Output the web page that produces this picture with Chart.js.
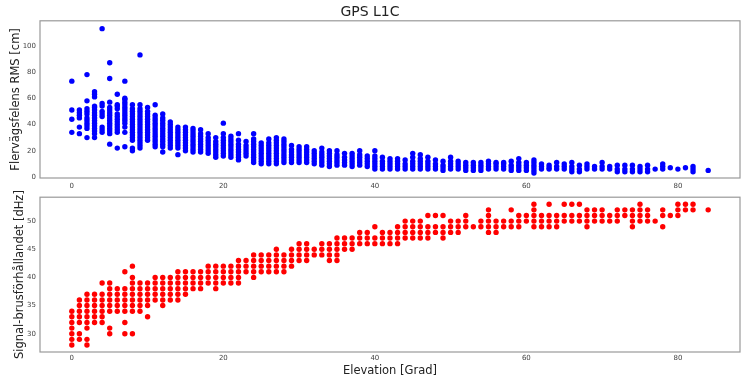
<!DOCTYPE html>
<html>
<head>
<meta charset="utf-8">
<script src="https://cdn.jsdelivr.net/npm/chart.js@4.4.1/dist/chart.umd.min.js"></script>
<style>
  body { margin: 0; background: #fff; }
  .panel { position: absolute; left: 0; width: 745px; }
</style>
</head>
<body>
<div class="panel" style="top:189px;height:189px"><canvas id="snr" width="745" height="189"></canvas></div>
<div class="panel" style="top:0;height:194px"><canvas id="rms" width="745" height="194"></canvas></div>
<script>
// multipath RMS [cm] per elevation column
var rmsColumns = [
  [0, [34, 44, 51, 73]],
  [1, [33, 38, 45, 47, 49, 51]],
  [2, [30, 37, 39, 41, 43, 45, 48, 50, 52, 58, 78]],
  [3, [30, 33, 35, 37, 39, 41, 43, 45, 47, 49, 51, 53, 54, 61, 63, 65]],
  [4, [34, 36, 38, 46, 48, 50, 54, 56, 113]],
  [5, [25, 33, 35, 37, 39, 41, 43, 45, 47, 49, 51, 53, 57, 75, 87]],
  [6, [22, 34, 36, 38, 40, 42, 44, 46, 48, 52, 54, 55, 63]],
  [7, [23, 34, 38, 41, 43, 45, 47, 49, 51, 53, 55, 57, 59, 60, 73]],
  [8, [20, 22, 28, 30, 32, 34, 36, 38, 40, 42, 44, 46, 48, 50, 52, 55]],
  [9, [22, 24, 26, 28, 30, 32, 34, 36, 38, 40, 42, 44, 46, 48, 50, 52, 55, 93]],
  [10, [28, 30, 32, 34, 36, 38, 40, 42, 44, 46, 48, 50, 53]],
  [11, [23, 25, 27, 29, 31, 33, 35, 37, 39, 41, 43, 45, 47, 55]],
  [12, [19, 23, 25, 27, 29, 31, 33, 35, 37, 39, 41, 43, 45, 48]],
  [13, [22, 24, 26, 28, 30, 32, 34, 36, 38, 40, 42]],
  [14, [17, 22, 24, 26, 28, 30, 32, 34, 36, 38]],
  [15, [20, 22, 24, 26, 28, 30, 32, 34, 36, 38]],
  [16, [19, 21, 23, 25, 27, 29, 31, 33, 35, 37]],
  [17, [19, 21, 23, 25, 27, 29, 31, 33, 36]],
  [18, [18, 20, 22, 24, 26, 28, 30, 33]],
  [19, [15, 17, 19, 21, 23, 25, 27, 30]],
  [20, [16, 18, 20, 22, 24, 26, 28, 30, 33, 41]],
  [21, [15, 17, 19, 21, 23, 25, 27, 29, 31]],
  [22, [13, 15, 17, 19, 21, 23, 25, 28, 33]],
  [23, [16, 18, 20, 22, 24, 27]],
  [24, [11, 13, 15, 17, 19, 21, 23, 25, 27, 29, 33]],
  [25, [10, 12, 14, 16, 18, 20, 22, 24, 26]],
  [26, [10, 12, 14, 16, 18, 20, 22, 24, 26, 29]],
  [27, [10, 12, 14, 16, 18, 20, 22, 24, 26, 28, 30]],
  [28, [11, 13, 15, 17, 19, 21, 23, 25, 27, 29]],
  [29, [11, 13, 15, 17, 19, 21, 24]],
  [30, [11, 13, 15, 17, 19, 21, 23]],
  [31, [11, 13, 15, 17, 19, 21, 23]],
  [32, [10, 12, 14, 16, 18, 20]],
  [33, [9, 11, 13, 15, 17, 19, 22]],
  [34, [8, 10, 12, 14, 16, 18, 20]],
  [35, [9, 11, 13, 15, 17, 20]],
  [36, [9, 11, 13, 15, 18]],
  [37, [8, 10, 12, 14, 16, 18]],
  [38, [9, 11, 13, 15, 17, 20]],
  [39, [8, 10, 12, 14, 16]],
  [40, [6, 8, 10, 12, 14, 16, 20]],
  [41, [6, 8, 10, 12, 15]],
  [42, [6, 8, 10, 12, 14]],
  [43, [6, 8, 10, 12, 14]],
  [44, [6, 8, 10, 13]],
  [45, [6, 8, 10, 12, 15, 18]],
  [46, [6, 8, 10, 12, 14, 17]],
  [47, [6, 8, 10, 12, 15]],
  [48, [6, 8, 10, 13]],
  [49, [5, 7, 9, 12]],
  [50, [6, 8, 10, 12, 15]],
  [51, [6, 8, 10, 12]],
  [52, [5, 7, 9, 11]],
  [53, [5, 7, 9, 11]],
  [54, [5, 7, 9, 11]],
  [55, [6, 8, 10, 12]],
  [56, [6, 8, 10, 11]],
  [57, [6, 8, 10, 11]],
  [58, [5, 7, 9, 12]],
  [59, [5, 7, 9, 11, 14]],
  [60, [5, 7, 9, 11]],
  [61, [3, 5, 7, 9, 11, 13]],
  [62, [6, 8, 10]],
  [63, [6, 7, 9]],
  [64, [6, 8, 11]],
  [65, [6, 8, 10]],
  [66, [4, 6, 8, 11]],
  [67, [4, 6, 9]],
  [68, [6, 8, 10]],
  [69, [6, 8]],
  [70, [6, 8, 11]],
  [71, [6, 8]],
  [72, [4, 6, 9]],
  [73, [4, 6, 9]],
  [74, [4, 6, 9]],
  [75, [4, 6, 8]],
  [76, [4, 6, 9]],
  [77, [6]],
  [78, [6, 8, 10]],
  [79, [7]],
  [80, [6]],
  [81, [7]],
  [82, [4, 6, 8]],
  [84, [5]]
];

// signal-to-noise ratio [dHz] per elevation column
var snrColumns = [
  [0, [28, 29, 30, 31, 32, 33, 34]],
  [1, [29, 30, 32, 33, 34, 35, 36]],
  [2, [28, 29, 31, 32, 33, 34, 35, 36, 37]],
  [3, [32, 33, 34, 35, 36, 37]],
  [4, [32, 33, 34, 35, 36, 37, 39]],
  [5, [30, 31, 34, 35, 36, 37, 38, 39]],
  [6, [34, 35, 36, 37, 38]],
  [7, [30, 32, 34, 35, 36, 37, 38, 41]],
  [8, [30, 34, 35, 36, 37, 38, 39, 40, 42]],
  [9, [34, 35, 36, 37, 38, 39]],
  [10, [33, 35, 36, 37, 38, 39]],
  [11, [36, 37, 38, 39, 40]],
  [12, [35, 36, 37, 38, 39, 40]],
  [13, [36, 37, 38, 39, 40]],
  [14, [36, 37, 38, 39, 40, 41]],
  [15, [37, 38, 39, 40, 41]],
  [16, [38, 39, 40, 41]],
  [17, [38, 39, 40, 41]],
  [18, [39, 40, 41, 42]],
  [19, [38, 39, 40, 41, 42]],
  [20, [39, 40, 41, 42]],
  [21, [39, 40, 41, 42]],
  [22, [39, 40, 41, 42, 43]],
  [23, [41, 42, 43]],
  [24, [40, 41, 42, 43, 44]],
  [25, [41, 42, 43, 44]],
  [26, [41, 42, 43, 44]],
  [27, [41, 42, 43, 44, 45]],
  [28, [41, 42, 43, 44]],
  [29, [42, 43, 44, 45]],
  [30, [43, 44, 45, 46]],
  [31, [43, 44, 45, 46]],
  [32, [44, 45]],
  [33, [44, 45, 46]],
  [34, [43, 44, 45, 46]],
  [35, [43, 44, 45, 46, 47]],
  [36, [45, 46, 47]],
  [37, [45, 46, 47]],
  [38, [46, 47, 48]],
  [39, [46, 47, 48]],
  [40, [46, 47, 49]],
  [41, [46, 47, 48]],
  [42, [46, 47, 48]],
  [43, [46, 47, 48, 49]],
  [44, [47, 48, 49, 50]],
  [45, [47, 48, 49, 50]],
  [46, [47, 48, 49, 50]],
  [47, [47, 48, 49, 51]],
  [48, [48, 49, 51]],
  [49, [47, 48, 49, 51]],
  [50, [48, 49, 50]],
  [51, [48, 49, 50]],
  [52, [49, 50, 51]],
  [53, [49]],
  [54, [49, 50]],
  [55, [48, 49, 50, 51, 52]],
  [56, [48, 49, 50]],
  [57, [49, 50]],
  [58, [49, 50, 52]],
  [59, [49, 50, 51]],
  [60, [50, 51]],
  [61, [49, 50, 51, 52, 53]],
  [62, [49, 50, 51]],
  [63, [49, 50, 51, 53]],
  [64, [49, 50, 51]],
  [65, [50, 51, 53]],
  [66, [50, 51, 53]],
  [67, [50, 51, 53]],
  [68, [49, 50, 51, 52]],
  [69, [50, 51, 52]],
  [70, [50, 51, 52]],
  [71, [50, 51]],
  [72, [50, 51, 52]],
  [73, [51, 52]],
  [74, [49, 50, 51, 52]],
  [75, [50, 51, 52, 53]],
  [76, [50, 51, 52]],
  [77, [50]],
  [78, [49, 51, 52]],
  [79, [51]],
  [80, [51, 52, 53]],
  [81, [52, 53]],
  [82, [52, 53]],
  [84, [52]]
];

var elevationTicks = [0, 20, 40, 60, 80];
var rmsTicks = [0, 20, 40, 60, 80, 100];
var snrTicks = [30, 35, 40, 45, 50];

function toPoints(columns) {
  var pts = [];
  columns.forEach(function(col) {
    col[1].forEach(function(v) { pts.push({x: col[0], y: v}); });
  });
  return pts;
}

var font = "'DejaVu Sans', sans-serif";

// matplotlib-style frame around the plot area
var frame = {
  id: 'frame',
  afterDraw: function(chart) {
    var a = chart.chartArea, ctx = chart.ctx;
    ctx.save();
    ctx.strokeStyle = '#999';
    ctx.lineWidth = 1.2;
    ctx.strokeRect(a.left, a.top, a.right - a.left, a.bottom - a.top);
    ctx.restore();
  }
};

function fixedTicks(list) {
  return function(scale) {
    scale.ticks = list.map(function(v) { return {value: v}; });
  };
}

function makeChart(id, points, color, yMin, yMax, yTicks, yTitle, opts) {
  return new Chart(document.getElementById(id), {
    type: 'scatter',
    data: {
      datasets: [{
        data: points,
        backgroundColor: color,
        borderColor: color,
        borderWidth: 0,
        pointRadius: 2.7,
        pointHoverRadius: 2.7
      }]
    },
    options: {
      responsive: false,
      animation: false,
      events: [],
      layout: {padding: {left: 0, right: 5, top: opts.padTop, bottom: 0}},
      plugins: {
        legend: {display: false},
        tooltip: {enabled: false},
        title: opts.title
      },
      scales: {
        x: {
          type: 'linear',
          min: -4.2,
          max: 88.2,
          afterBuildTicks: fixedTicks(elevationTicks),
          afterFit: function(scale) { scale.height = opts.xHeight; },
          grid: {display: false, drawTicks: false, tickLength: 0},
          border: {display: false},
          ticks: {font: {family: font, size: 7}, color: '#444', padding: opts.xTickPad, maxRotation: 0},
          title: opts.xTitle
        },
        y: {
          min: yMin,
          max: yMax,
          afterBuildTicks: fixedTicks(yTicks),
          afterFit: function(scale) { scale.width = 40; },
          grid: {display: false, drawTicks: false, tickLength: 0},
          border: {display: false},
          ticks: {font: {family: font, size: 7}, color: '#444', padding: 4},
          title: {display: true, text: yTitle, font: {family: font, size: 11.5}, color: '#222', padding: {top: opts.yTitleTop, bottom: 0}}
        }
      }
    },
    plugins: [frame]
  });
}

makeChart('rms', toPoints(rmsColumns), '#0000ff', -0.8, 119, rmsTicks, 'Flervägsfelens RMS [cm]', {
  padTop: 0,
  xHeight: 16,
  xTickPad: 4,
  yTitleTop: 9,
  title: {display: true, text: 'GPS L1C', font: {family: font, size: 14, weight: 'normal'}, color: '#222', padding: {top: 4, bottom: 0}},
  xTitle: {display: false}
});

makeChart('snr', toPoints(snrColumns), '#ff0000', 26.75, 54.25, snrTicks, 'Signal-brusförhållandet [dHz]', {
  padTop: 5,
  xHeight: 26,
  xTickPad: 2,
  yTitleTop: 13,
  title: {display: false},
  xTitle: {display: true, text: 'Elevation [Grad]', font: {family: font, size: 11.5}, color: '#222', padding: {top: 0, bottom: 0}}
});
</script>
</body>
</html>
